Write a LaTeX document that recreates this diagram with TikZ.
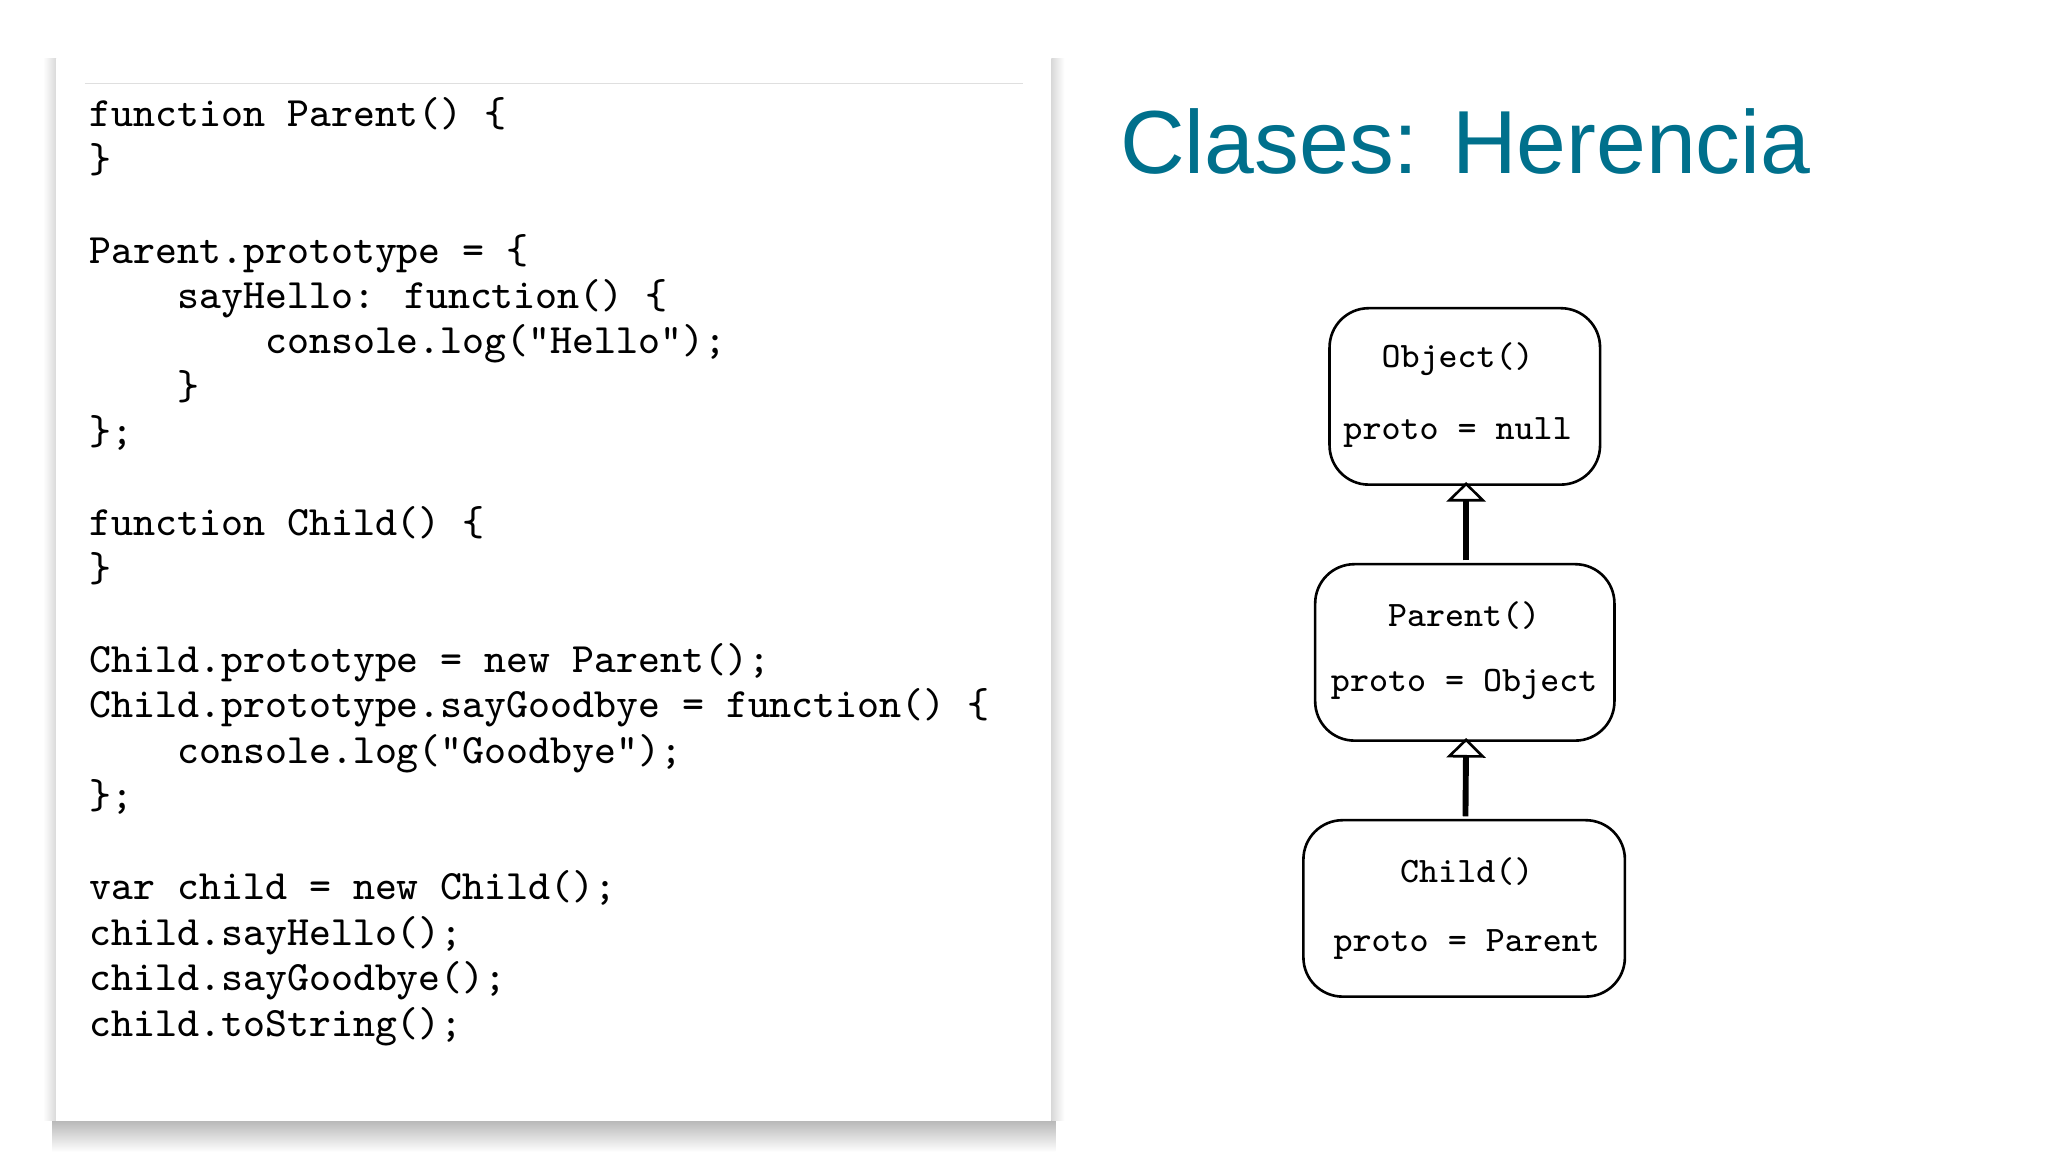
\documentclass[tikz,border=0pt]{standalone}
\usepackage{fontspec}
\newfontfamily\titlefont{Liberation Sans}
\usetikzlibrary{arrows.meta}
\definecolor{teal1}{RGB}{0,112,140}
\tikzset{
  cls/.style={draw,line width=0.02cm,rounded corners=0.3cm,minimum width=#1,minimum height=1.35cm},
  inh/.style={line width=0.045cm,-{Triangle[open,length=0.15cm,width=0.3cm,line width=0.02cm]}},
  lbl/.style={font=\ttfamily\fontsize{7.8}{9}\selectfont}
}
\newcommand{\ind}{\phantom{xxxx}}
\begin{document}
\begin{tikzpicture}[x=0.01cm,y=-0.01cm]
\useasboundingbox (0,0) rectangle (1568,882);
\fill[white] (0,0) rectangle (1568,882);
% paper shadow
\shade[top color=gray!70,bottom color=white] (40,852) rectangle (808,882);
\shade[left color=gray!30,right color=white] (805,45) rectangle (815,858);
\shade[right color=gray!30,left color=white] (33,45) rectangle (43,858);
\fill[white] (43,45) rectangle (805,858);
\draw[gray!25,line width=0.01cm] (65,64) -- (783,64);
\node[anchor=north west,align=left,inner sep=0pt,font=\ttfamily\fontsize{9.1}{9.9}\selectfont] (code) at (68,74) {%
function Parent() \{\\
\}\\
\mbox{}\\
Parent.prototype = \{\\
\ind sayHello: function() \{\\
\ind\ind console.log("Hello");\\
\ind \}\\
\};\\
\mbox{}\\
function Child() \{\\
\}\\
\mbox{}\\
Child.prototype = new Parent();\\
Child.prototype.sayGoodbye = function() \{\\
\ind console.log("Goodbye");\\
\};\\
\mbox{}\\
var child = new Child();\\
child.sayHello();\\
child.sayGoodbye();\\
child.toString();};
\node[anchor=west,text=teal1,font=\titlefont\fontsize{19.5}{21}\selectfont,inner sep=0pt] (title) at (857,108) {Clases: Herencia};
\node[cls=2.07cm] (obj) at (1121.5,303.5) {};
\node[lbl] (objA) at (1116,275) {Object()};
\node[lbl] (objB) at (1116,331) {proto = null};
\node[cls=2.29cm] (par) at (1121.5,499.5) {};
\node[lbl] (parA) at (1121,471) {Parent()};
\node[lbl] (parB) at (1121,524) {proto = Object};
\node[cls=2.46cm] (chi) at (1121,695.5) {};
\node[lbl] (chiA) at (1123,667) {Child()};
\node[lbl] (chiB) at (1123,723) {proto = Parent};
\draw[inh] ([xshift=0.01cm,yshift=0.02cm]par.north) -- ([xshift=0.01cm,yshift=0.03cm]obj.south);
\draw[inh] ([xshift=0.01cm,yshift=0.02cm]chi.north) -- ([xshift=0.01cm,yshift=0.03cm]par.south);
\end{tikzpicture}
\end{document}
